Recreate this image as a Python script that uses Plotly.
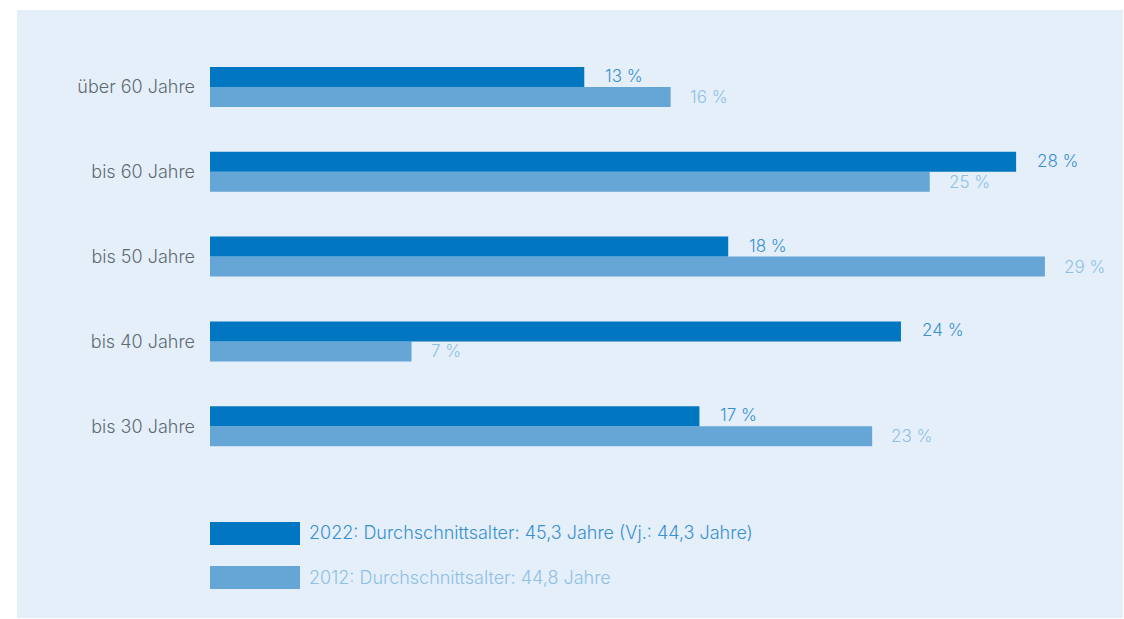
import plotly.graph_objects as go

categories = ["bis 30 Jahre", "bis 40 Jahre", "bis 50 Jahre", "bis 60 Jahre", "über 60 Jahre"]
values_2022 = [17, 24, 18, 28, 13]
values_2012 = [23, 7, 29, 25, 16]
labels_2022 = ["17 %", "24 %", "18 %", "28 %", "13 %"]
labels_2012 = ["23 %", "7 %", "29 %", "25 %", "16 %"]
legend_2022 = "2022: Durchschnittsalter: 45,3 Jahre (Vj.: 44,3 Jahre)"
legend_2012 = "2012: Durchschnittsalter: 44,8 Jahre"

W, H = 1124, 619
C_DARK = "#0077c0"
C_LIGHT = "#66a6d6"
T_DARK = "#3a8fd0"
T_LIGHT = "#8fbfe6"
BG = "#e4eff9"
FONT = "Inter"
FS = 17
FS_BIG = 18
WT = 300

fig = go.Figure()
fig.add_trace(go.Bar(y=categories, x=values_2012, orientation="h", marker_color=C_LIGHT,
                     marker_line_width=0, name="2012", hoverinfo="skip"))
fig.add_trace(go.Bar(y=categories, x=values_2022, orientation="h", marker_color=C_DARK,
                     marker_line_width=0, name="2022", hoverinfo="skip"))

ann = []
for c, v, t in zip(categories, values_2022, labels_2022):
    ann.append(dict(x=v, y=c, xref="x", yref="y", text=t, showarrow=False, xanchor="left",
                    yanchor="middle", xshift=19, yshift=11,
                    font=dict(family=FONT, size=FS, color=T_DARK, weight=WT)))
for c, v, t in zip(categories, values_2012, labels_2012):
    ann.append(dict(x=v, y=c, xref="x", yref="y", text=t, showarrow=False, xanchor="left",
                    yanchor="middle", xshift=17, yshift=-10,
                    font=dict(family=FONT, size=FS, color=T_LIGHT, weight=WT)))

def px(x):
    return x / W

def py(y):
    return 1 - y / H

ann.append(dict(x=px(307), y=py(532), xref="paper", yref="paper", text=legend_2022, showarrow=False,
                xanchor="left", yanchor="middle", font=dict(family=FONT, size=FS_BIG, color=T_DARK, weight=WT)))
ann.append(dict(x=px(307), y=py(577), xref="paper", yref="paper", text=legend_2012, showarrow=False,
                xanchor="left", yanchor="middle", font=dict(family=FONT, size=FS_BIG, color=T_LIGHT, weight=WT)))

shapes = [
    dict(type="rect", xref="paper", yref="paper", x0=px(17), x1=px(1123), y0=py(618), y1=py(10),
         fillcolor=BG, line_width=0, layer="below"),
    dict(type="rect", xref="paper", yref="paper", x0=px(210), x1=px(300), y0=py(545), y1=py(522),
         fillcolor=C_DARK, line_width=0),
    dict(type="rect", xref="paper", yref="paper", x0=px(210), x1=px(300), y0=py(589), y1=py(566),
         fillcolor=C_LIGHT, line_width=0),
]

unit = 28.79
step = 84.8
top_c = 87
bot_c = top_c + 4 * step
fig.update_layout(
    width=W, height=H, margin=dict(l=0, r=0, t=0, b=0),
    paper_bgcolor="white", plot_bgcolor="rgba(0,0,0,0)",
    barmode="group", bargap=1 - 40 / step, bargroupgap=0,
    showlegend=False, annotations=ann, shapes=shapes,
    font=dict(family=FONT),
)
fig.update_xaxes(range=[0, 30], domain=[px(210), px(210 + 30 * unit)], visible=False, fixedrange=True)
fig.update_yaxes(type="category", categoryorder="array", categoryarray=categories,
                 range=[-0.5, 4.5], domain=[py(bot_c + step / 2), py(top_c - step / 2)],
                 showgrid=False, zeroline=False, showline=False, ticks="",
                 ticklabelstandoff=14,
                 tickfont=dict(family=FONT, size=FS_BIG, color="#5f6b73", weight=WT), fixedrange=True)

fig.write_html("out.html")
